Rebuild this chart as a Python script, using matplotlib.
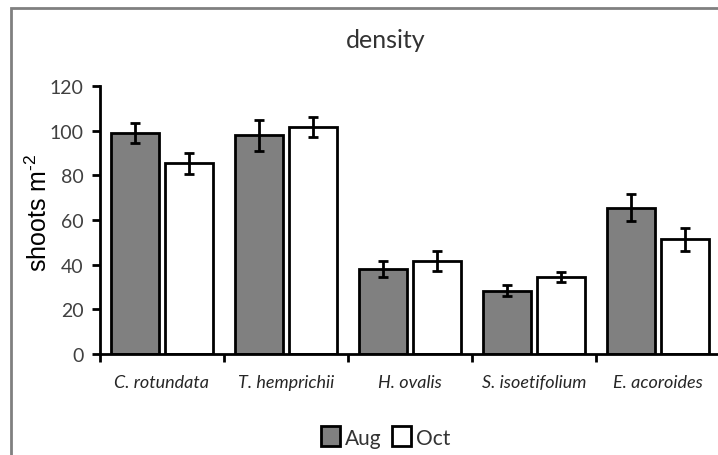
import matplotlib.pyplot as plt
from matplotlib.patches import Rectangle
import numpy as np

species = ['C. rotundata', 'T. hemprichii', 'H. ovalis', 'S. isoetifolium', 'E. acoroides']
aug = [99, 98, 38, 28.3, 65.5]
aug_err = [4.5, 7, 3.5, 2.5, 6]
oct_ = [85.3, 101.5, 41.5, 34.5, 51.3]
oct_err = [4.5, 4.5, 4.5, 2.2, 5.3]

BAR_WIDTH = 0.39
OFFSET = 0.22

plt.rcParams['mathtext.fontset'] = 'custom'
plt.rcParams['mathtext.rm'] = 'Liberation Sans'

fig = plt.figure(figsize=(7.18, 4.56), dpi=100)
ax = fig.add_axes([100 / 718, 1 - 355 / 456, 620 / 718, 268 / 456])

x = np.arange(len(species))
err_kw = dict(ecolor='black', elinewidth=2, capsize=3.5, capthick=2)
ax.bar(x - OFFSET, aug, BAR_WIDTH, yerr=aug_err, color='#808080', edgecolor='black',
       linewidth=2, error_kw=err_kw, label='Aug')
ax.bar(x + OFFSET, oct_, BAR_WIDTH, yerr=oct_err, color='white', edgecolor='black',
       linewidth=2, error_kw=err_kw, label='Oct')

ax.set_xlim(-0.5, 4.5)
ax.set_ylim(0, 120)
ax.set_yticks(range(0, 121, 20))
ax.set_xticks(np.arange(-0.5, 4.6, 1))
ax.set_xticklabels([])
for i, name in enumerate(species):
    ax.text(i, -12.5, name, ha='center', va='center', fontsize=13, style='italic',
            family='Lato', color='#262626')

for s in ['top', 'right']:
    ax.spines[s].set_visible(False)
for s in ['left', 'bottom']:
    ax.spines[s].set_linewidth(2)
ax.tick_params(axis='both', width=2, length=6, direction='out')
ax.tick_params(axis='y', labelsize=14, labelcolor='#404040', pad=6)
for lbl in ax.get_yticklabels():
    lbl.set_family('Lato')

ax.set_ylabel('shoots m$^{\\text{-2}}$', fontsize=18, family='Liberation Sans')
ax.yaxis.set_label_coords(-0.077, 0.53)
fig.text(386 / 718, 1 - 40 / 456, 'density', ha='center', va='center', fontsize=18,
         family='Lato', color='#333333')

leg = fig.legend(loc='center', bbox_to_anchor=(386 / 718, 1 - 438 / 456), ncol=2,
                 frameon=False, handlelength=0.9, handleheight=1.1, handletextpad=0.25,
                 columnspacing=0.5, prop={'family': 'Lato', 'size': 15})
for t in leg.get_texts():
    t.set_color('#333333')

fig.patches.append(Rectangle((11 / 718, -0.05), 1.2, 1 - 9 / 456 + 0.05,
                             transform=fig.transFigure, fill=False,
                             edgecolor='#808080', linewidth=2, zorder=0))

fig.savefig('out.png', dpi=100)
